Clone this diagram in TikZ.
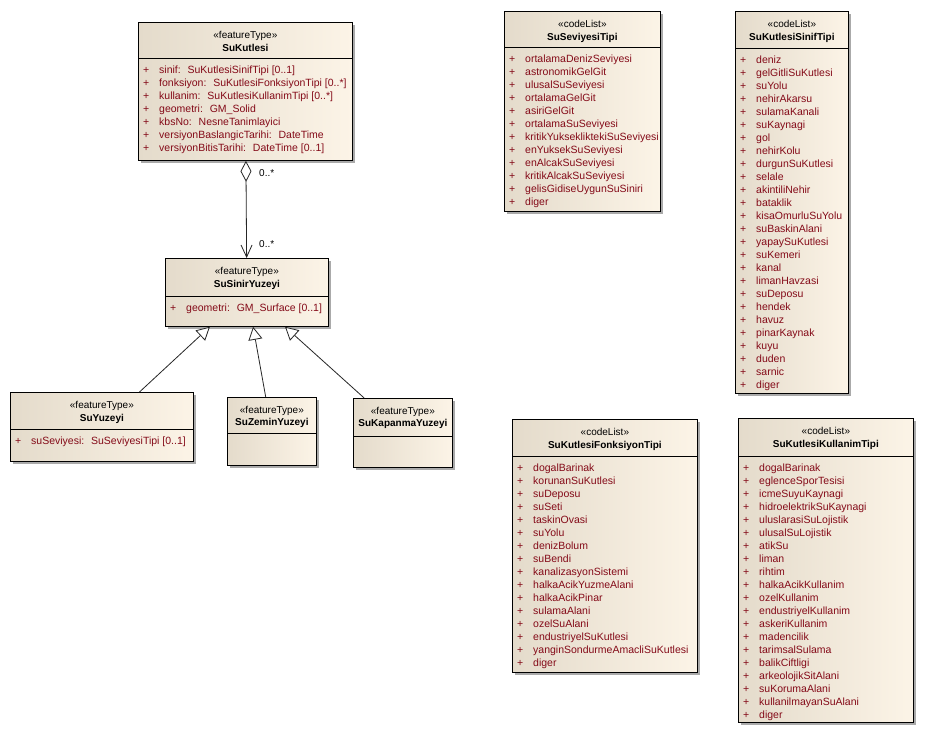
\documentclass[tikz,border=0pt]{standalone}
\usepackage{fontspec}
\setmainfont{Liberation Sans}
\usetikzlibrary{calc,shadows,arrows.meta}
\definecolor{boxL}{RGB}{228,219,203}
\definecolor{boxR}{RGB}{252,244,231}
\definecolor{attrred}{RGB}{132,10,24}
\definecolor{shadowgray}{RGB}{170,170,170}
\tikzset{
  classbox/.style={draw=black, line width=0.8pt, left color=boxL, right color=boxR,
    anchor=north west, inner sep=0pt,
    drop shadow={shadow xshift=3pt, shadow yshift=-3pt, fill=shadowgray, opacity=1}},
  stereo/.style={font=\fontsize{10}{12}\selectfont, inner sep=0pt, anchor=base},
  cname/.style={font=\fontsize{10}{12}\selectfont\bfseries, inner sep=0pt, anchor=base},
  attr/.style={font=\fontsize{10.5}{13}\selectfont, text=attrred, inner sep=0pt, anchor=base west},
  divider/.style={draw=black, line width=0.8pt},
  conn/.style={draw=black!85, line width=0.8pt},
  mult/.style={font=\fontsize{10}{12}\selectfont, inner sep=0pt, anchor=west},
}
\newcommand{\umlhead}[6]{%
  \node[classbox, minimum width=#4pt, minimum height=#5pt] (#1) at (#2,#3) {};
  \node[stereo] (#1-st) at ($(#1.north)+(0,16)$) {«#6»};
}
\newcommand{\umlclass}[9]{%
  \umlhead{#1}{#2}{#3}{#4}{#5}{#6}%
  \node[cname] (#1-nm) at ($(#1.north)+(0,29)$) {#7};
  \draw[divider] ($(#1.north west)+(0,#8)$) -- ($(#1.north east)+(0,#8)$);
  \foreach \a [count=\i] in {#9} {
    \node[attr] at ($(#1.north west)+(5,{#8+15+13*(\i-1)})$) {+};
    \node[attr] at ($(#1.north west)+(21,{#8+15+13*(\i-1)})$) {\a};
  }
}
\newcommand{\umlempty}[8]{%
  \umlhead{#1}{#2}{#3}{#4}{#5}{#6}%
  \node[cname] (#1-nm) at ($(#1.north)+(0,28)$) {#7};
  \draw[divider] ($(#1.north west)+(0,#8)$) -- ($(#1.north east)+(0,#8)$);
}
\begin{document}
\begin{tikzpicture}[x=1pt,y=-1pt]
\fill[white] (0,0) rectangle (932,734);
\useasboundingbox (0,0) rectangle (932,734);

\umlclass{kutlesi}{138}{22}{214}{138}{featureType}{SuKutlesi}{36}{%
  sinif:~ SuKutlesiSinifTipi [0..1],
  fonksiyon:~ SuKutlesiFonksiyonTipi [0..*],
  kullanim:~ SuKutlesiKullanimTipi [0..*],
  geometri:~ GM\_Solid,
  kbsNo:~ NesneTanimlayici,
  versiyonBaslangicTarihi:~ DateTime,
  versiyonBitisTarihi:~ DateTime [0..1]}

\umlclass{sinir}{165}{258}{163}{68}{featureType}{SuSinirYuzeyi}{38}{%
  geometri:~ GM\_Surface [0..1]}

\umlclass{suyuzeyi}{10}{392}{183}{69}{featureType}{SuYuzeyi}{37}{%
  suSeviyesi:~ SuSeviyesiTipi [0..1]}

\umlempty{zemin}{227}{397}{89}{68}{featureType}{SuZeminYuzeyi}{36}
\umlempty{kapanma}{353}{398}{99}{69}{featureType}{SuKapanmaYuzeyi}{38}

\umlclass{seviye}{504}{11}{156}{200}{codeList}{SuSeviyesiTipi}{36}{%
  ortalamaDenizSeviyesi, astronomikGelGit, ulusalSuSeviyesi, ortalamaGelGit,
  asiriGelGit, ortalamaSuSeviyesi, kritikYuksekliktekiSuSeviyesi, enYuksekSuSeviyesi,
  enAlcakSuSeviyesi, kritikAlcakSuSeviyesi, gelisGidiseUygunSuSiniri, diger}

\umlclass{sinif}{735}{11}{113}{382}{codeList}{SuKutlesiSinifTipi}{37}{%
  deniz, gelGitliSuKutlesi, suYolu, nehirAkarsu, sulamaKanali, suKaynagi, gol,
  nehirKolu, durgunSuKutlesi, selale, akintiliNehir, bataklik, kisaOmurluSuYolu,
  suBaskinAlani, yapaySuKutlesi, suKemeri, kanal, limanHavzasi, suDeposu, hendek,
  havuz, pinarKaynak, kuyu, duden, sarnic, diger}

\umlclass{fonksiyon}{512}{419}{185}{253}{codeList}{SuKutlesiFonksiyonTipi}{37}{%
  dogalBarinak, korunanSuKutlesi, suDeposu, suSeti, taskinOvasi, suYolu,
  denizBolum, suBendi, kanalizasyonSistemi, halkaAcikYuzmeAlani, halkaAcikPinar,
  sulamaAlani, ozelSuAlani, endustriyelSuKutlesi, yanginSondurmeAmacliSuKutlesi, diger}

\umlclass{kullanim}{738}{418}{175}{304}{codeList}{SuKutlesiKullanimTipi}{38}{%
  dogalBarinak, eglenceSporTesisi, icmeSuyuKaynagi, hidroelektrikSuKaynagi,
  uluslarasiSuLojistik, ulusalSuLojistik, atikSu, liman, rihtim, halkaAcikKullanim,
  ozelKullanim, endustriyelKullanim, askeriKullanim, madencilik, tarimsalSulama,
  balikCiftligi, arkeolojikSitAlani, suKorumaAlani, kullanilmayanSuAlani, diger}

% aggregation
\draw[conn, {Diamond[length=21pt, width=11pt, fill=white]}-{Straight Barb[length=12pt, width=11pt]}]
  (kutlesi) -- (sinir);
\node[mult] (m1) at (259,173) {0..*};
\node[mult] (m2) at (259,244) {0..*};

% generalizations
\draw[conn, -{Triangle[open, length=13pt, width=14pt, fill=white]}] (suyuzeyi) -- (sinir);
\draw[conn, -{Triangle[open, length=13pt, width=14pt, fill=white]}] (zemin) -- (sinir);
\draw[conn, -{Triangle[open, length=13pt, width=14pt, fill=white]}] (kapanma) -- (sinir);
\end{tikzpicture}
\end{document}
